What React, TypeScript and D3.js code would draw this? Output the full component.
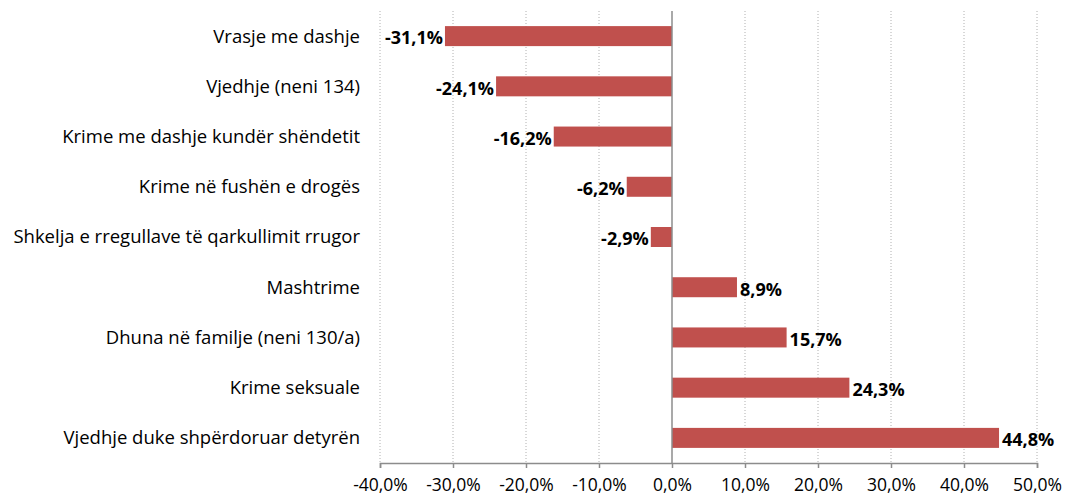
import { useEffect, useRef } from "react";
import * as d3 from "d3";

const categories = [
  "Vrasje me dashje",
  "Vjedhje (neni 134)",
  "Krime me dashje kundër shëndetit",
  "Krime në fushën e drogës",
  "Shkelja e rregullave të qarkullimit rrugor",
  "Mashtrime",
  "Dhuna në familje (neni 130/a)",
  "Krime seksuale",
  "Vjedhje duke shpërdoruar detyrën",
];
const changes = [-31.1, -24.1, -16.2, -6.2, -2.9, 8.9, 15.7, 24.3, 44.8];
const xTicks = [-40, -30, -20, -10, 0, 10, 20, 30, 40, 50];

const fmt = (v: number) => v.toFixed(1).replace(".", ",") + "%";

const App = () => {
  const svgRef = useRef<SVGSVGElement>(null);

  useEffect(() => {
    const svg = d3.select(svgRef.current);
    svg.selectAll("*").remove();

    const font = "'Open Sans', sans-serif";
    const left = 380;
    const right = 1037;
    const top = 11;
    const bottom = 463;

    const x = d3.scaleLinear().domain([-40, 50]).range([left, right]);
    const y = d3
      .scaleBand()
      .domain(categories)
      .range([top, bottom])
      .paddingInner(0.6)
      .paddingOuter(0.3);

    const data = categories.map((c, i) => ({ name: c, value: changes[i] }));

    // vertical gridlines
    svg
      .append("g")
      .selectAll("line")
      .data(xTicks.filter((t) => t !== 0))
      .enter()
      .append("line")
      .attr("x1", (d) => x(d))
      .attr("x2", (d) => x(d))
      .attr("y1", top)
      .attr("y2", bottom)
      .attr("stroke", "#b0b0b0")
      .attr("stroke-width", 1)
      .attr("stroke-dasharray", "1,2");

    // bars
    const bh = 20;
    svg
      .append("g")
      .selectAll("rect")
      .data(data)
      .enter()
      .append("rect")
      .attr("x", (d) => Math.min(x(d.value), x(0)))
      .attr("width", (d) => Math.abs(x(d.value) - x(0)))
      .attr("y", (d) => y(d.name)! + y.bandwidth() / 2 - bh / 2)
      .attr("height", bh)
      .attr("fill", "#C0504D");

    // zero line
    svg
      .append("line")
      .attr("x1", x(0))
      .attr("x2", x(0))
      .attr("y1", top)
      .attr("y2", bottom)
      .attr("stroke", "#8c8c8c")
      .attr("stroke-width", 1.5);

    // bottom axis
    const axis = svg
      .append("g")
      .attr("transform", `translate(0,${bottom})`)
      .call(
        d3
          .axisBottom(x)
          .tickValues(xTicks)
          .tickSize(5)
          .tickFormat((d) => fmt(d as number))
      );
    axis.select(".domain").attr("stroke", "#8c8c8c").attr("stroke-width", 1.5);
    axis.selectAll(".tick line").attr("stroke", "#8c8c8c").attr("stroke-width", 1.5);
    axis
      .selectAll(".tick text")
      .attr("y", 28)
      .attr("dy", 0)
      .attr("font-family", font)
      .attr("font-size", 17.5)
      .attr("fill", "#000");

    // category labels
    svg
      .append("g")
      .selectAll("text")
      .data(data)
      .enter()
      .append("text")
      .attr("x", 360)
      .attr("y", (d) => y(d.name)! + y.bandwidth() / 2)
      .attr("dy", "0.35em")
      .attr("text-anchor", "end")
      .attr("font-family", font)
      .attr("font-size", 18.5)
      .attr("fill", "#000")
      .text((d) => d.name);

    // value labels
    svg
      .append("g")
      .selectAll("text")
      .data(data)
      .enter()
      .append("text")
      .attr("x", (d) => (d.value < 0 ? x(d.value) - 2 : x(d.value) + 3))
      .attr("y", (d) => y(d.name)! + y.bandwidth() / 2 + 2)
      .attr("dy", "0.35em")
      .attr("text-anchor", (d) => (d.value < 0 ? "end" : "start"))
      .attr("font-family", font)
      .attr("font-size", 18)
      .attr("font-weight", "bold")
      .attr("fill", "#000")
      .text((d) => fmt(d.value));
  }, []);

  return (
    <svg
      ref={svgRef}
      width={1065}
      height={500}
      style={{ position: "absolute", left: 0, top: 0, display: "block" }}
    ></svg>
  );
};

export default App;
